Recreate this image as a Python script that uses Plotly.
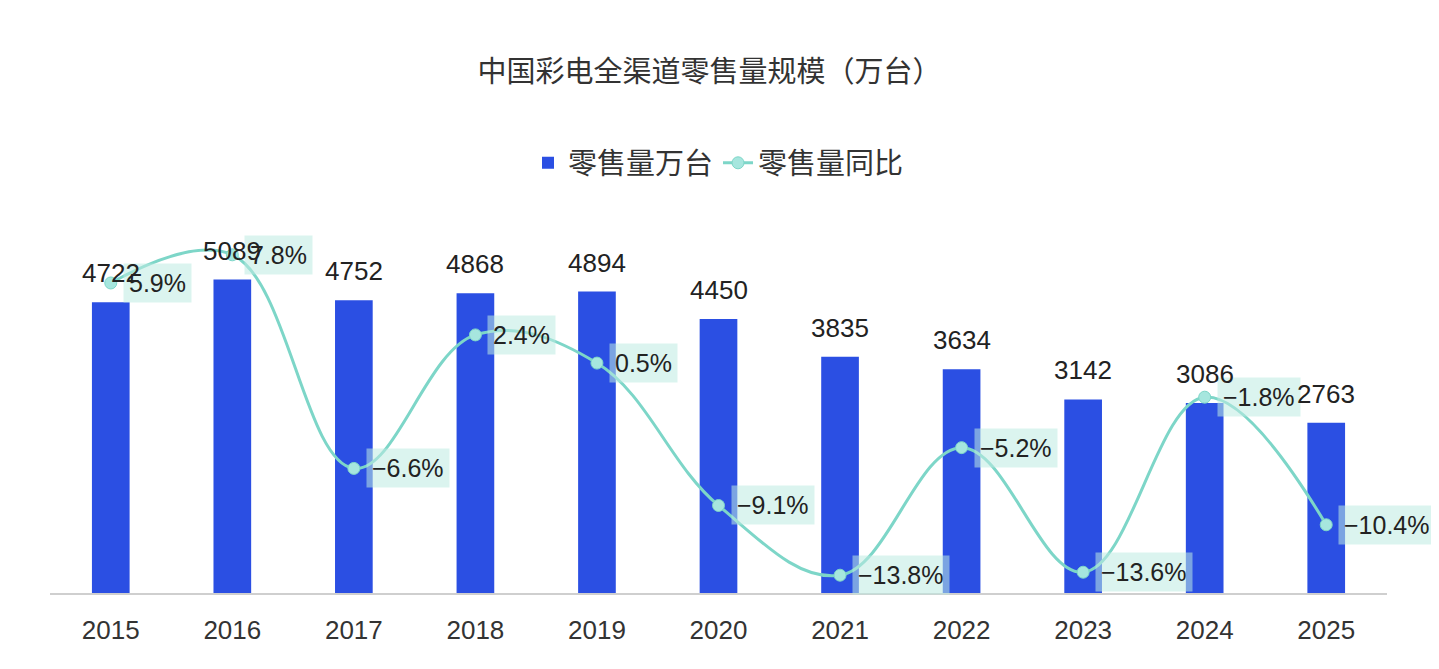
import plotly.graph_objects as go

# data
years = ['2015', '2016', '2017', '2018', '2019', '2020', '2021', '2022', '2023', '2024', '2025']
sales = [4722, 5089, 4752, 4868, 4894, 4450, 3835, 3634, 3142, 3086, 2763]
yoy = [5.9, 7.8, -6.6, 2.4, 0.5, -9.1, -13.8, -5.2, -13.6, -1.8, -10.4]
yoy_labels = ['5.9%', '7.8%', '-6.6%', '2.4%', '0.5%', '-9.1%', '-13.8%', '-5.2%', '-13.6%', '-1.8%', '-10.4%']

BLUE = '#2b4fe3'
TEAL = '#7dd6c8'
FONT = 'Noto Sans CJK SC, Noto Sans, sans-serif'
NUMFONT = 'Liberation Sans, Arial, sans-serif'

W, H = 1423, 653   # page body has an 8px margin
idx = list(range(len(years)))

fig = go.Figure()

fig.add_trace(go.Bar(
    x=idx, y=sales, name='零售量万台',
    marker=dict(color=BLUE, line=dict(width=0)),
    width=0.31,
))

fig.add_trace(go.Scatter(
    x=idx, y=yoy, name='零售量同比', yaxis='y2',
    mode='lines+markers',
    line=dict(color=TEAL, width=3, shape='spline', smoothing=1.1),
    marker=dict(color='#a6e6de', size=12, line=dict(color=TEAL, width=1)),
))

annotations = []
# yoy labels to the right of the markers, on a pale teal box
for i, p, lab in zip(idx, yoy, yoy_labels):
    annotations.append(dict(
        x=i, y=p, xref='x', yref='y2', text=lab.replace('-', '−'),
        showarrow=False, xanchor='left', yanchor='middle', xshift=12,
        bgcolor='rgba(190,235,226,0.55)', borderpad=5,
        font=dict(size=25, color='#222222', family=NUMFONT),
    ))
# value labels above the bars (drawn last so they sit on top)
for i, v in zip(idx, sales):
    annotations.append(dict(
        x=i, y=v, xref='x', yref='y', text=str(v),
        showarrow=False, yanchor='bottom', yshift=12,
        font=dict(size=26, color='#222222', family=NUMFONT),
    ))

fig.update_layout(
    width=W, height=H,
    paper_bgcolor='white', plot_bgcolor='white',
    margin=dict(l=42, r=44, t=229, b=68),
    font=dict(family=FONT, color='#333333'),
    title=dict(
        text='中国彩电全渠道零售量规模（万台）',
        x=0.493, xanchor='center', y=1 - 64 / H, yanchor='middle',
        font=dict(size=29, color='#333333', family=FONT),
    ),
    legend=dict(
        orientation='h', x=0.5, xanchor='center', y=1.208, yanchor='middle',
        font=dict(size=29, color='#333333', family=FONT),
        traceorder='normal',
    ),
    xaxis=dict(
        range=[-0.5, len(years) - 0.5], tickvals=idx, ticktext=years,
        showgrid=False, zeroline=False,
        showline=True, linecolor='#cfcfcf', linewidth=2,
        ticks='outside', ticklen=13, tickcolor='rgba(0,0,0,0)',
        tickfont=dict(size=26, color='#333333', family=NUMFONT),
    ),
    yaxis=dict(range=[0, 5780], visible=False, showgrid=False),
    yaxis2=dict(range=[-15, 9], overlaying='y', side='right', visible=False, showgrid=False),
    annotations=annotations,
    showlegend=True,
)

fig.write_html('out.html')
